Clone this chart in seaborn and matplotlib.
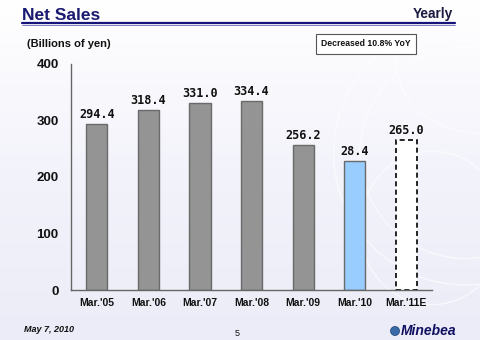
import numpy as np
import pandas as pd
import matplotlib
matplotlib.use("Agg")
import matplotlib.pyplot as plt
from matplotlib.lines import Line2D
from matplotlib.patches import Ellipse
from matplotlib.colors import LinearSegmentedColormap
import seaborn as sns

categories = ["Mar.'05", "Mar.'06", "Mar.'07", "Mar.'08", "Mar.'09", "Mar.'10", "Mar.'11E"]
values = [294.4, 318.4, 331.0, 334.4, 256.2, 228.4, 265.0]
value_labels = ["294.4", "318.4", "331.0", "334.4", "256.2", "28.4", "265.0"]
bar_colors = ["#949494", "#949494", "#949494", "#949494", "#949494", "#99ccff", "#ffffff"]
y_ticks = [0, 100, 200, 300, 400]

sns.set_theme(style="white")
plt.rcParams['font.family'] = ['Liberation Sans', 'DejaVu Sans']

fig = plt.figure(figsize=(4.8, 3.4), dpi=100)
fig.patch.set_facecolor("#f1f1f9")

# background gradient
bg = fig.add_axes([0, 0, 1, 1], zorder=-10)
grad = np.linspace(0, 1, 200).reshape(-1, 1)
cmap = LinearSegmentedColormap.from_list("bgc", ["#ffffff", "#f3f3fb", "#ececf8"])
bg.imshow(grad, aspect="auto", cmap=cmap, extent=[0, 1, 0, 1], origin="upper")
for cx, cy, w, h in [(0.97, 0.55, 0.55, 0.55), (0.97, 0.55, 0.44, 0.44), (0.9, 0.33, 0.3, 0.32), (1.0, 0.82, 0.35, 0.3)]:
    bg.add_patch(Ellipse((cx, cy), w, h * 480 / 340, fill=False, ec="#ffffff", lw=1.0, alpha=0.6))
bg.set_xlim(0, 1); bg.set_ylim(0, 1)
bg.axis("off")

ax = fig.add_axes([0.148, 0.147, 0.752, 0.665])
ax.set_facecolor("none")
df = pd.DataFrame({"cat": categories, "val": values})
sns.barplot(data=df, x="cat", y="val", hue="cat", palette=bar_colors, legend=False,
            width=0.41, ax=ax, saturation=1)
for i, p in enumerate(ax.patches):
    if i == len(categories) - 1:
        p.set_edgecolor("black")
        p.set_linestyle((0, (3, 2)))
        p.set_linewidth(1.2)
    else:
        p.set_edgecolor("#6a6a6a")
        p.set_linewidth(1.0)
    ax.text(p.get_x() + p.get_width() / 2, p.get_height() + 5, value_labels[i],
            ha="center", va="bottom", fontsize=8.5, fontweight="bold", color="#111111",
            family=["DejaVu Sans Mono"])

ax.set_ylim(0, 400)
ax.set_xlim(-0.5, len(categories) - 0.5)
ax.set_yticks(y_ticks)
ax.set_yticklabels([str(t) for t in y_ticks], fontsize=9.5, fontweight="bold")
ax.set_xticks(range(len(categories)))
ax.set_xticklabels(categories, fontsize=7.5, fontweight="bold")
ax.set_xlabel(""); ax.set_ylabel("")
for s in ["top", "right"]:
    ax.spines[s].set_visible(False)
for s in ["left", "bottom"]:
    ax.spines[s].set_color("#666666")
    ax.spines[s].set_linewidth(1.0)
ax.tick_params(axis="y", length=3, width=0.8, color="#666666", direction="out", pad=6, colors="#111111")
ax.tick_params(axis="x", length=0, pad=6, colors="#111111")
ax.set_xticks(np.arange(0.5, len(categories) - 0.5, 1), minor=True)
ax.tick_params(axis="x", which="minor", length=3, width=0.8, color="#666666", direction="in")

# header
fig.text(22 / 480, 1 - 15 / 340, "Net Sales", fontsize=12.5, fontweight="bold", color="#1a1a70",
         ha="left", va="center")
fig.text(453 / 480, 1 - 14 / 340, "Yearly", fontsize=9.8, fontweight="bold", color="#1a1a40",
         ha="right", va="center")
fig.add_artist(Line2D([22 / 480, 455 / 480], [1 - 23 / 340, 1 - 23 / 340], color="#14147a", lw=1.6))
fig.add_artist(Line2D([22 / 480, 455 / 480], [1 - 25.3 / 340, 1 - 25.3 / 340], color="#6a6ab8", lw=0.6))
fig.text(27 / 480, 1 - 44 / 340, "(Billions of yen)", fontsize=8, fontweight="bold", color="#111111",
         ha="left", va="center")
fig.text(366 / 480, 1 - 44 / 340, "Decreased 10.8% YoY", fontsize=6.2, fontweight="bold", color="#111111",
         ha="center", va="center",
         bbox=dict(boxstyle="square,pad=0.6", fc="white", ec="#555555", lw=0.8))

# footer
fig.text(24 / 480, 1 - 330 / 340, "May 7, 2010", fontsize=6.5, fontweight="bold", style="italic",
         color="#111111", ha="left", va="center")
fig.text(237 / 480, 1 - 334 / 340, "5", fontsize=6.5, color="#111111", ha="center", va="center")
fig.add_artist(Ellipse((395 / 480, 1 - 331 / 340), 9 / 480, 9 / 340, fc="#3a6aa8", ec="#1a3a70", lw=0.5))
fig.text(456 / 480, 1 - 331 / 340, "Minebea", fontsize=10, fontweight="bold", style="italic",
         color="#101060", ha="right", va="center")

fig.savefig("out.png", dpi=100, facecolor=fig.get_facecolor())
